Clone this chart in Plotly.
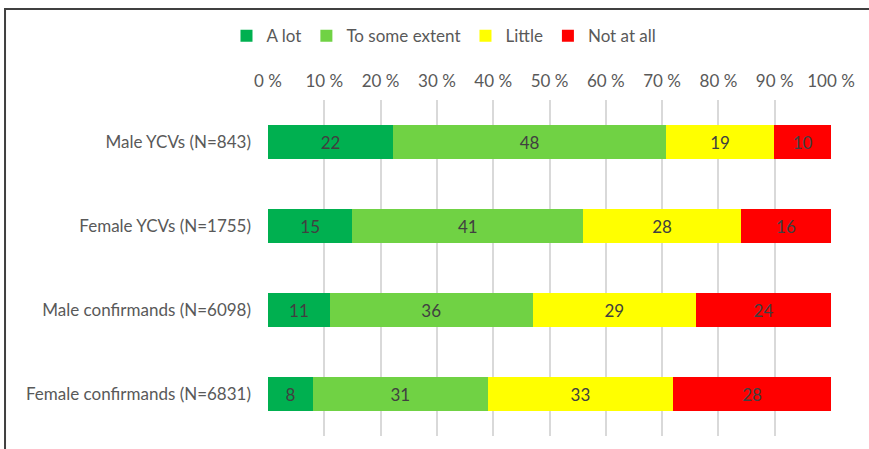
import plotly.graph_objects as go

# Survey groups (top to bottom) and answer shares in percent
groups = [
    "Male YCVs (N=843)",
    "Female YCVs (N=1755)",
    "Male confirmands (N=6098)",
    "Female confirmands (N=6831)",
]
answers = ["A lot", "To some extent", "Little", "Not at all"]
a_lot = [22, 15, 11, 8]
some_extent = [48, 41, 36, 31]
little = [19, 28, 29, 33]
not_at_all = [10, 16, 24, 28]
tick_values = [0, 10, 20, 30, 40, 50, 60, 70, 80, 90, 100]

series = [a_lot, some_extent, little, not_at_all]
colors = ["#00B050", "#70D244", "#FFFF00", "#FF0000"]

FONT = "Lato, Carlito, Calibri, sans-serif"
TEXT = "#595959"
FS = 17

fig = go.Figure()
for name, vals, col in zip(answers, series, colors):
    fig.add_trace(go.Bar(
        y=groups, x=vals, name=name, orientation="h",
        marker=dict(color=col, line=dict(width=0)),
        text=[str(v) for v in vals], textposition="inside",
        insidetextanchor="middle", textangle=0,
        textfont=dict(family=FONT, size=FS, color="#404040"),
        hoverinfo="skip",
    ))

fig.update_layout(
    barmode="stack", barnorm="percent", bargap=0.595,
    width=869, height=449,
    margin=dict(l=268, r=38, t=100, b=13, autoexpand=False),
    paper_bgcolor="white", plot_bgcolor="white",
    font=dict(family=FONT, size=FS, color=TEXT),
    legend=dict(
        orientation="h", x=0.3126, xanchor="center", y=1.19, yanchor="middle",
        font=dict(family=FONT, size=FS, color=TEXT),
        bgcolor="rgba(0,0,0,0)",
        itemwidth=30, traceorder="normal",
    ),
    xaxis=dict(
        side="top", range=[0, 100], tickvals=tick_values,
        ticktext=[f"{v} %" for v in tick_values],
        showgrid=True, gridcolor="#D9D9D9", gridwidth=1.5,
        zeroline=False, showline=False, ticks="", ticklabelstandoff=9,
        tickfont=dict(family=FONT, size=FS, color=TEXT),
    ),
    yaxis=dict(
        categoryorder="array", categoryarray=groups[::-1],
        showgrid=False, zeroline=False, showline=False, ticks="",
        ticklabelstandoff=16,
        tickfont=dict(family=FONT, size=FS, color=TEXT),
    ),
    shapes=[
        dict(type="rect", xref="paper", yref="paper",
             x0=-0.4671, x1=1.08, y0=-0.06, y1=1.2708,
             line=dict(color="#404040", width=2), layer="above"),
    ],
)

fig.write_html("out.html")
